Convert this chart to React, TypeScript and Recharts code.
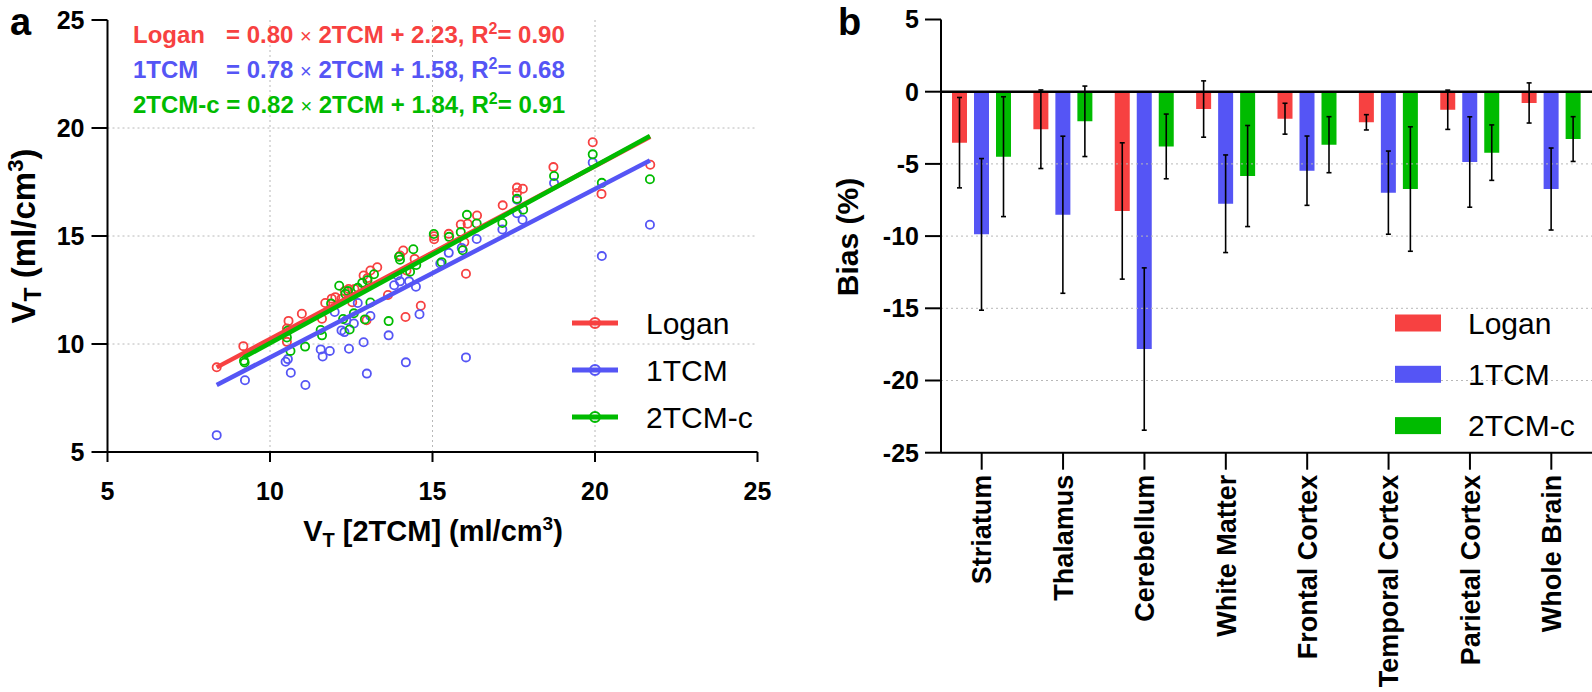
import React from 'react';
import {
  ScatterChart,
  Scatter,
  XAxis,
  YAxis,
  ReferenceLine,
  BarChart,
  Bar,
  ErrorBar,
  Legend,
} from 'recharts';

const FONT = '"Liberation Sans", Arial, Helvetica, sans-serif';
const RED = '#F74141';
const BLUE = '#5555F5';
const GREEN = '#00BB00';
const GRID = '#b8b8b8';

// ---------- Panel a: scatter data (x = VT[2TCM], y = VT by method) ----------
const loganPts: number[][] = [
  [8.36, 8.92], [9.18, 9.9], [10.52, 10.1], [10.52, 10.72], [10.57, 11.07], [10.98, 11.4],
  [11.6, 11.17], [11.7, 11.9], [11.9, 12.1], [12.01, 12.17], [12.2, 12.1], [12.3, 12.45],
  [12.42, 12.55], [12.53, 11.93], [12.6, 12.55], [12.88, 13.17], [12.97, 11.1], [13.0, 13.05],
  [13.09, 13.4], [13.3, 13.55], [13.63, 12.27], [14.0, 14.1], [14.1, 14.33], [14.17, 11.25],
  [14.2, 13.4], [14.45, 13.94], [14.64, 11.77], [15.05, 14.99], [15.05, 14.85], [15.5, 15.1],
  [15.87, 15.53], [15.98, 14.71], [16.03, 13.25], [16.08, 15.57], [16.37, 15.95], [17.16, 16.42],
  [17.6, 16.99], [17.6, 17.24], [17.78, 17.19], [18.72, 18.19], [19.93, 19.34], [20.2, 16.95],
  [21.7, 18.3],
];
const tcm1Pts: number[][] = [
  [8.36, 5.78], [9.23, 8.32], [10.48, 9.18], [10.55, 9.3], [10.64, 8.67], [11.09, 8.1],
  [11.56, 9.75], [11.62, 9.42], [11.84, 9.68], [11.99, 11.48], [12.2, 10.63], [12.29, 10.55],
  [12.35, 11.1], [12.43, 9.78], [12.58, 10.95], [12.7, 11.9], [12.88, 10.08], [12.98, 8.63],
  [13.09, 11.3], [13.65, 10.4], [13.82, 12.72], [13.92, 13.17], [14.0, 12.9], [14.18, 9.15],
  [14.28, 12.9], [14.49, 12.65], [14.6, 11.38], [15.24, 13.73], [15.5, 14.22], [15.9, 14.45],
  [16.03, 9.38], [16.36, 14.86], [17.15, 15.3], [17.6, 16.05], [17.6, 16.68], [17.77, 15.75],
  [18.74, 17.45], [19.93, 18.4], [20.21, 14.07], [21.69, 15.52],
];
const tcm2cPts: number[][] = [
  [9.2, 9.22], [9.22, 9.14], [10.52, 10.3], [10.55, 10.62], [10.63, 9.68], [11.08, 9.88],
  [11.56, 10.65], [11.6, 10.4], [11.88, 11.87], [12.13, 12.7], [12.25, 11.16], [12.32, 12.32],
  [12.4, 12.45], [12.45, 10.67], [12.58, 11.42], [12.7, 12.6], [12.84, 12.83], [12.92, 11.14],
  [13.0, 12.95], [13.09, 11.92], [13.2, 13.23], [13.65, 11.06], [13.97, 14.04], [14.0, 13.9],
  [14.31, 13.35], [14.41, 14.39], [14.5, 13.66], [15.04, 15.09], [15.28, 13.79], [15.51, 14.96],
  [15.87, 15.18], [15.93, 14.34], [16.06, 15.98], [16.36, 15.58], [17.15, 15.6], [17.6, 16.72],
  [17.79, 16.22], [18.74, 17.78], [19.93, 18.78], [20.21, 17.46], [21.69, 17.63],
];

const methodNames = ['Logan', '1TCM', '2TCM-c'];
const methodColors = [RED, BLUE, GREEN];
const fitSlopes = [0.8, 0.78, 0.82];
const fitIntercepts = [2.23, 1.58, 1.84];
const fitR2 = [0.9, 0.68, 0.91];
const axisTicksA = [5, 10, 15, 20, 25];
const gridA = [10, 15, 20];

// ---------- Panel b: bias data ----------
const regions = [
  'Striatum', 'Thalamus', 'Cerebellum', 'White Matter',
  'Frontal Cortex', 'Temporal Cortex', 'Parietal Cortex', 'Whole Brain',
];
const loganBias = [-3.53, -2.6, -8.26, -1.2, -1.87, -2.12, -1.25, -0.78];
const loganSd = [3.13, 2.72, 4.72, 1.95, 1.07, 0.53, 1.36, 1.39];
const tcm1Bias = [-9.88, -8.52, -17.82, -7.76, -5.47, -6.99, -4.87, -6.74];
const tcm1Sd = [5.25, 5.44, 5.62, 3.38, 2.4, 2.88, 3.13, 2.84];
const tcm2cBias = [-4.5, -2.05, -3.79, -5.84, -3.67, -6.74, -4.22, -3.28];
const tcm2cSd = [4.15, 2.44, 2.24, 3.5, 1.94, 4.31, 1.92, 1.55];
const biasTicks = [5, 0, -5, -10, -15, -20, -25];
const biasGrid = [-5, -10, -15, -20];

const toXY = (pts: number[][]) => pts.map(([x, y]) => ({ x, y }));
const fitLine = (pts: number[][], i: number) => {
  const xs = pts.map((p) => p[0]);
  const x0 = Math.min(...xs);
  const x1 = Math.max(...xs);
  return [
    { x: x0, y: fitSlopes[i] * x0 + fitIntercepts[i] },
    { x: x1, y: fitSlopes[i] * x1 + fitIntercepts[i] },
  ];
};

const barRows = regions.map((region, i) => ({
  region,
  logan: loganBias[i],
  loganSd: loganSd[i],
  tcm1: tcm1Bias[i],
  tcm1Sd: tcm1Sd[i],
  tcm2c: tcm2cBias[i],
  tcm2cSd: tcm2cSd[i],
}));

const tickStyle = { fill: '#000', fontSize: 25, fontWeight: 700, fontFamily: FONT };
const axisLineStyle = { stroke: '#000', strokeWidth: 2 };

const ring = (color: string) => (props: any) => (
  <circle cx={props.cx} cy={props.cy} r={4.1} fill="none" stroke={color} strokeWidth={1.8} />
);
const noShape = () => <g />;

const RotTick = (props: any) => {
  const { x, y, payload } = props;
  return (
    <text
      x={x}
      y={y}
      transform={`rotate(-90, ${x}, ${y})`}
      textAnchor="end"
      dy="0.36em"
      fontSize={27}
      fontWeight={700}
      fontFamily={FONT}
      fill="#000"
    >
      {payload.value}
    </text>
  );
};

const ScatterLegend = () => (
  <svg width={230} height={150} style={{ overflow: 'visible' }}>
    {methodNames.map((n, i) => {
      const cy = 23 + i * 47;
      return (
        <g key={n}>
          <line x1={12} x2={58} y1={cy} y2={cy} stroke={methodColors[i]} strokeWidth={5} />
          <circle cx={35} cy={cy} r={5} fill="none" stroke={methodColors[i]} strokeWidth={2} />
          <text x={86} y={cy} dy="0.36em" fontSize={30} fontFamily={FONT} fill="#000">
            {n}
          </text>
        </g>
      );
    })}
  </svg>
);

const BarLegend = () => (
  <svg width={220} height={160} style={{ overflow: 'visible' }}>
    {methodNames.map((n, i) => {
      const cy = 23 + i * 51.3;
      return (
        <g key={n}>
          <rect x={15} y={cy - 8.5} width={46} height={17} fill={methodColors[i]} />
          <text x={88} y={cy} dy="0.36em" fontSize={30} fontFamily={FONT} fill="#000">
            {n}
          </text>
        </g>
      );
    })}
  </svg>
);

const Equation = ({ i, y }: { i: number; y: number }) => {
  const c = methodColors[i];
  const fs = 24;
  const rest = (
    <>
      {'= ' + fitSlopes[i].toFixed(2) + ' '}
      <tspan fontWeight={400} fontSize={20}>×</tspan>
      {' 2TCM + ' + fitIntercepts[i].toFixed(2) + ', R'}
      <tspan fontSize={16} dy={-9}>2</tspan>
      <tspan dy={9}>{'= ' + fitR2[i].toFixed(2)}</tspan>
    </>
  );
  if (i === 2) {
    return (
      <text x={133} y={y} fill={c} fontSize={fs} fontWeight={700} fontFamily={FONT}>
        {methodNames[i] + ' '}
        {rest}
      </text>
    );
  }
  return (
    <g>
      <text x={133} y={y} fill={c} fontSize={fs} fontWeight={700} fontFamily={FONT}>
        {methodNames[i]}
      </text>
      <text x={226} y={y} fill={c} fontSize={fs} fontWeight={700} fontFamily={FONT}>
        {rest}
      </text>
    </g>
  );
};

export default function App() {
  return (
    <div
      style={{
        position: 'absolute',
        left: 0,
        top: 0,
        width: 1592,
        height: 692,
        background: '#fff',
        fontFamily: FONT,
      }}
    >
      <div style={{ position: 'absolute', left: 0, top: 0 }}>
        <ScatterChart
          width={800}
          height={692}
          margin={{ top: 20, right: 42.5, left: 47.5, bottom: 180 }}
        >
          <XAxis
            type="number"
            dataKey="x"
            domain={[5, 25]}
            ticks={axisTicksA}
            allowDataOverflow
            height={60}
            tickSize={10}
            tickMargin={20}
            tick={tickStyle}
            axisLine={axisLineStyle}
            tickLine={axisLineStyle}
          />
          <YAxis
            type="number"
            dataKey="y"
            domain={[5, 25]}
            ticks={axisTicksA}
            allowDataOverflow
            width={60}
            tickSize={16}
            tickMargin={7}
            tick={tickStyle}
            axisLine={axisLineStyle}
            tickLine={axisLineStyle}
          />
          {gridA.map((v) => (
            <ReferenceLine key={'gx' + v} x={v} stroke={GRID} strokeDasharray="2 3" strokeWidth={1} />
          ))}
          {gridA.map((v) => (
            <ReferenceLine key={'gy' + v} y={v} stroke={GRID} strokeDasharray="2 3" strokeWidth={1} />
          ))}
          <Scatter name="Logan" data={toXY(loganPts)} shape={ring(RED)} isAnimationActive={false} />
          <Scatter name="1TCM" data={toXY(tcm1Pts)} shape={ring(BLUE)} isAnimationActive={false} />
          <Scatter name="2TCM-c" data={toXY(tcm2cPts)} shape={ring(GREEN)} isAnimationActive={false} />
          <Scatter
            data={fitLine(loganPts, 0)}
            line={{ stroke: RED, strokeWidth: 4.5 }}
            shape={noShape}
            legendType="none"
            isAnimationActive={false}
          />
          <Scatter
            data={fitLine(tcm1Pts, 1)}
            line={{ stroke: BLUE, strokeWidth: 4.5 }}
            shape={noShape}
            legendType="none"
            isAnimationActive={false}
          />
          <Scatter
            data={fitLine(tcm2cPts, 2)}
            line={{ stroke: GREEN, strokeWidth: 4.5 }}
            shape={noShape}
            legendType="none"
            isAnimationActive={false}
          />
          <Legend
            layout="vertical"
            align="center"
            verticalAlign="middle"
            content={() => <ScatterLegend />}
            wrapperStyle={{ position: 'absolute', left: 560, top: 300, width: 230, height: 150 }}
          />
        </ScatterChart>
      </div>

      <div style={{ position: 'absolute', left: 800, top: 0 }}>
        <BarChart
          width={792}
          height={692}
          data={barRows}
          margin={{ top: 19.5, right: 0, left: 81, bottom: 39.3 }}
          barGap={7}
          barSize={15}
        >
          <XAxis
            dataKey="region"
            type="category"
            interval={0}
            height={200}
            tickSize={17}
            tickMargin={5}
            tick={(p: any) => <RotTick {...p} />}
            axisLine={axisLineStyle}
            tickLine={axisLineStyle}
          />
          <YAxis
            type="number"
            domain={[-25, 5]}
            ticks={biasTicks}
            allowDataOverflow
            width={60}
            tickSize={16}
            tickMargin={6}
            tick={tickStyle}
            axisLine={axisLineStyle}
            tickLine={axisLineStyle}
          />
          {biasGrid.map((v) => (
            <ReferenceLine key={'bg' + v} y={v} stroke={GRID} strokeDasharray="2 3" strokeWidth={1} />
          ))}
          <Bar dataKey="logan" name="Logan" fill={RED} isAnimationActive={false}>
            <ErrorBar dataKey="loganSd" width={2.5} stroke="#000" strokeWidth={1.6} direction="y" />
          </Bar>
          <Bar dataKey="tcm1" name="1TCM" fill={BLUE} isAnimationActive={false}>
            <ErrorBar dataKey="tcm1Sd" width={2.5} stroke="#000" strokeWidth={1.6} direction="y" />
          </Bar>
          <Bar dataKey="tcm2c" name="2TCM-c" fill={GREEN} isAnimationActive={false}>
            <ErrorBar dataKey="tcm2cSd" width={2.5} stroke="#000" strokeWidth={1.6} direction="y" />
          </Bar>
          <ReferenceLine y={0} stroke="#000" strokeWidth={2.5} />
          <Legend
            layout="vertical"
            align="center"
            verticalAlign="middle"
            content={() => <BarLegend />}
            wrapperStyle={{ position: 'absolute', left: 580, top: 300, width: 220, height: 160 }}
          />
        </BarChart>
      </div>

      <svg
        width={1592}
        height={692}
        style={{ position: 'absolute', left: 0, top: 0, pointerEvents: 'none' }}
      >
        <text x={10} y={35} fontSize={38} fontWeight={700} fontFamily={FONT} fill="#000">a</text>
        <text x={838} y={35} fontSize={38} fontWeight={700} fontFamily={FONT} fill="#000">b</text>
        <Equation i={0} y={43} />
        <Equation i={1} y={78} />
        <Equation i={2} y={113} />
        <text
          x={23}
          y={236}
          transform="rotate(-90, 23, 236)"
          textAnchor="middle"
          dy="0.36em"
          fontSize={33}
          fontWeight={700}
          fontFamily={FONT}
          fill="#000"
        >
          V<tspan fontSize={23} dy={6}>T</tspan>
          <tspan dy={-6}>{' (ml/cm'}</tspan>
          <tspan fontSize={22} dy={-12}>3</tspan>
          <tspan dy={12}>)</tspan>
        </text>
        <text
          x={433}
          y={541}
          textAnchor="middle"
          fontSize={29}
          fontWeight={700}
          fontFamily={FONT}
          fill="#000"
        >
          V<tspan fontSize={20} dy={6}>T</tspan>
          <tspan dy={-6}>{' [2TCM] (ml/cm'}</tspan>
          <tspan fontSize={19} dy={-11}>3</tspan>
          <tspan dy={11}>)</tspan>
        </text>
        <text
          x={847}
          y={237}
          transform="rotate(-90, 847, 237)"
          textAnchor="middle"
          dy="0.36em"
          fontSize={30}
          fontWeight={700}
          fontFamily={FONT}
          fill="#000"
        >
          Bias (%)
        </text>
      </svg>
    </div>
  );
}
